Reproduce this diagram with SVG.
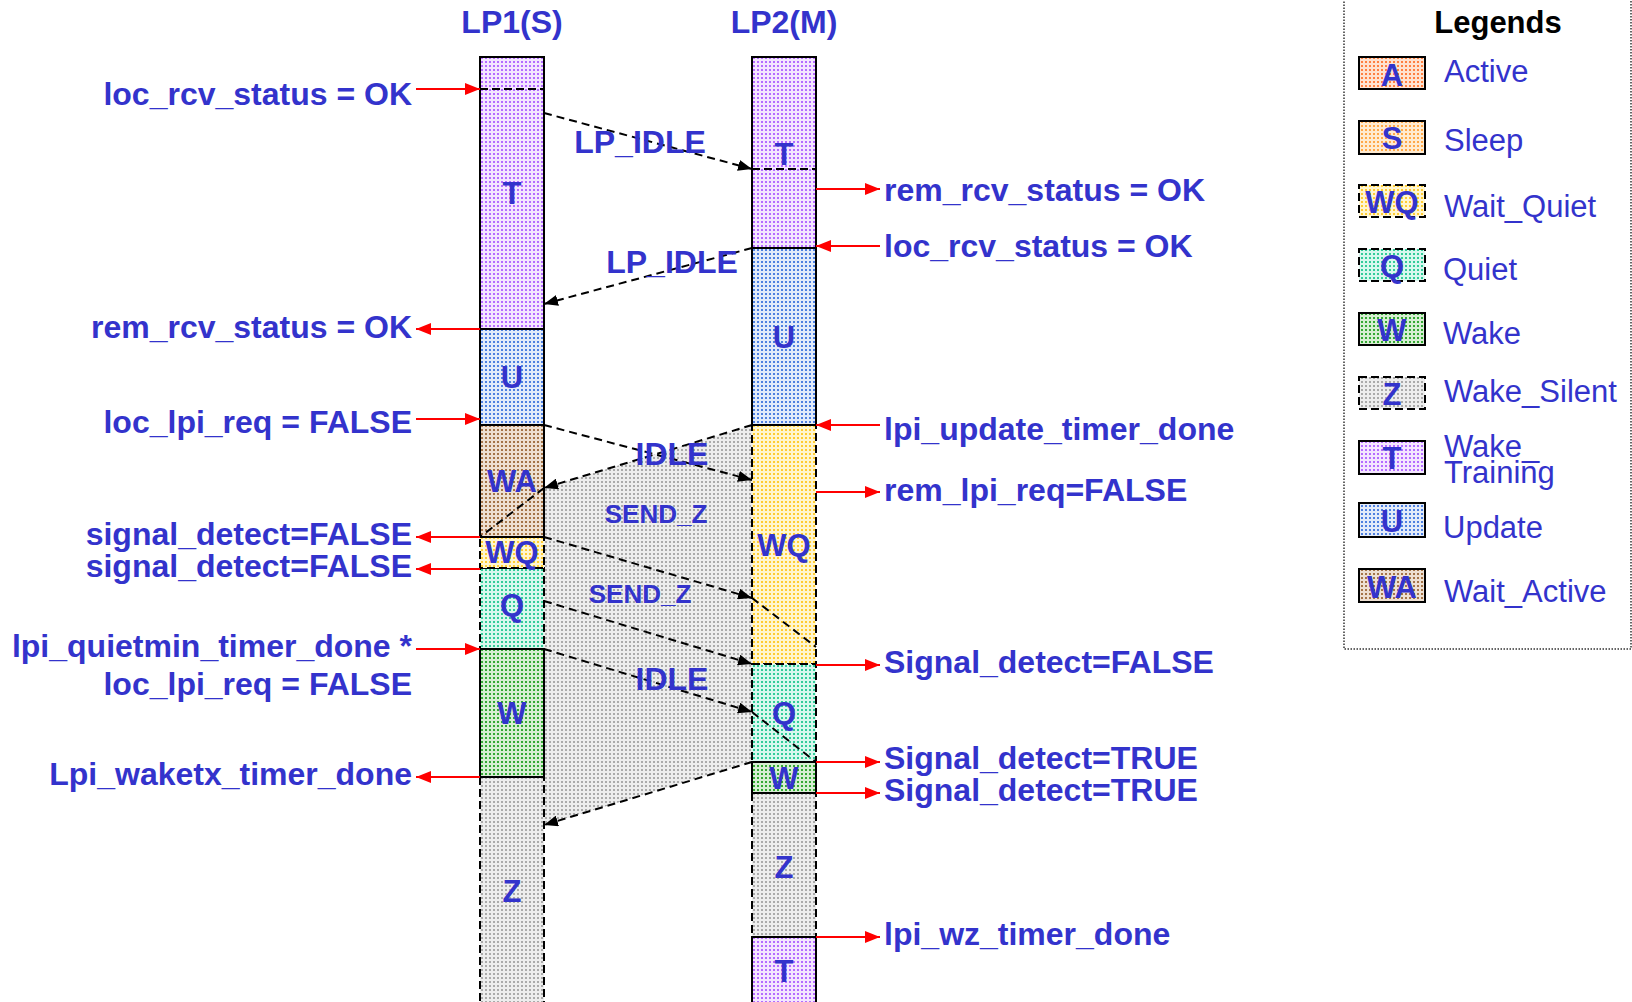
<svg xmlns="http://www.w3.org/2000/svg" width="1632" height="1002" viewBox="0 0 1632 1002">
<defs>
  <pattern id="pT" width="4" height="4" patternUnits="userSpaceOnUse"><rect width="4" height="4" fill="#F4E6FF"/><rect x="1" y="1" width="2" height="2" fill="#B46CFF"/></pattern>
  <pattern id="pU" width="4" height="4" patternUnits="userSpaceOnUse"><rect width="4" height="4" fill="#E2EBFA"/><rect x="1" y="1" width="2" height="2" fill="#4E80E0"/></pattern>
  <pattern id="pWA" width="4" height="4" patternUnits="userSpaceOnUse"><rect width="4" height="4" fill="#EEE0D2"/><rect x="1" y="1" width="2" height="2" fill="#A47448"/></pattern>
  <pattern id="pWQ" width="4" height="4" patternUnits="userSpaceOnUse"><rect width="4" height="4" fill="#FFF6D0"/><rect x="1" y="1" width="2" height="2" fill="#FFCC33"/></pattern>
  <pattern id="pQ" width="4" height="4" patternUnits="userSpaceOnUse"><rect width="4" height="4" fill="#D8F8EE"/><rect x="1" y="1" width="2" height="2" fill="#33CC99"/></pattern>
  <pattern id="pW" width="4" height="4" patternUnits="userSpaceOnUse"><rect width="4" height="4" fill="#D6EED2"/><rect x="1" y="1" width="2" height="2" fill="#33A833"/></pattern>
  <pattern id="pZ" width="4" height="4" patternUnits="userSpaceOnUse"><rect width="4" height="4" fill="#EDEDED"/><rect x="1" y="1" width="2" height="2" fill="#AAAAAA"/></pattern>
  <pattern id="pA" width="4" height="4" patternUnits="userSpaceOnUse"><rect width="4" height="4" fill="#FFE2D0"/><rect x="1" y="1" width="2" height="2" fill="#FF8040"/></pattern>
  <pattern id="pS" width="4" height="4" patternUnits="userSpaceOnUse"><rect width="4" height="4" fill="#FFEBD0"/><rect x="1" y="1" width="2" height="2" fill="#FFA848"/></pattern>
  <marker id="ar" markerUnits="userSpaceOnUse" markerWidth="16" markerHeight="12" refX="15" refY="6" orient="auto"><path d="M0,0 L15,6 L0,12 z" fill="#FF0000"/></marker>
  <marker id="ab" markerUnits="userSpaceOnUse" markerWidth="15" markerHeight="11" refX="14" refY="5.5" orient="auto"><path d="M0,0 L14,5.5 L0,11 z" fill="#000"/></marker>
</defs>
<style>
  text { font-family: "Liberation Sans", Arial, sans-serif; }
  .b { font-weight: bold; fill: #3333CC; }
  .hdr { font-size: 32px; text-anchor: middle; }
  .lbl { font-size: 32px; }
  .lft { text-anchor: end; }
  .st { font-size: 31px; text-anchor: middle; }
  .msg { font-size: 32px; text-anchor: middle; }
  .msgs { font-size: 26px; text-anchor: middle; }
  .solid { stroke: #000; stroke-width: 2; }
  .dash { stroke: #000; stroke-width: 2; stroke-dasharray: 8 4; }
  .red { stroke: #FF0000; stroke-width: 2; fill: none; marker-end: url(#ar); }
  .blk { stroke: #000; stroke-width: 2; stroke-dasharray: 8 5; fill: none; }
  .blka { marker-end: url(#ab); }
  .leg { font-size: 31px; fill: #3333CC; }
  .lgl { font-size: 31px; font-weight: bold; fill: #3333CC; text-anchor: middle; }
</style>

<g id="headers">
  <text class="b hdr" x="512" y="33">LP1(S)</text>
  <text class="b hdr" x="784" y="33">LP2(M)</text>
</g>

<g id="silent-region">
  <polygon points="752,425 544,488 544,825 752,762" fill="url(#pZ)"/>
</g>

<g id="lp1-column">
  <g id="lp1-Z"><rect x="480" y="777" width="64" height="228" fill="url(#pZ)" class="dash"/><text class="b st" x="512" y="902">Z</text></g>
  <g id="lp1-Q"><rect x="480" y="568" width="64" height="81" fill="url(#pQ)" class="dash"/><text class="b st" x="512" y="616">Q</text></g>
  <g id="lp1-WQ"><rect x="480" y="537" width="64" height="31" fill="url(#pWQ)" class="dash"/><text class="b st" x="512" y="563">WQ</text></g>
  <g id="lp1-T"><rect x="480" y="57" width="64" height="272" fill="url(#pT)" class="solid"/><line x1="480" y1="89" x2="544" y2="89" class="dash"/><text class="b st" x="512" y="204">T</text></g>
  <g id="lp1-U"><rect x="480" y="329" width="64" height="96" fill="url(#pU)" class="solid"/><text class="b st" x="512" y="388">U</text></g>
  <g id="lp1-WA"><rect x="480" y="425" width="64" height="112" fill="url(#pWA)" class="solid"/><text class="b st" x="512" y="492">WA</text></g>
  <g id="lp1-W"><rect x="480" y="649" width="64" height="128" fill="url(#pW)" class="solid"/><text class="b st" x="512" y="724">W</text></g>
</g>

<g id="lp2-column">
  <g id="lp2-WQ"><rect x="752" y="425" width="64" height="239" fill="url(#pWQ)" class="dash"/><text class="b st" x="784" y="556">WQ</text></g>
  <g id="lp2-Q"><rect x="752" y="664" width="64" height="98" fill="url(#pQ)" class="dash"/><text class="b st" x="784" y="724">Q</text></g>
  <g id="lp2-Z"><rect x="752" y="793" width="64" height="144" fill="url(#pZ)" class="dash"/><text class="b st" x="784" y="878">Z</text></g>
  <g id="lp2-T1"><rect x="752" y="57" width="64" height="191" fill="url(#pT)" class="solid"/><line x1="752" y1="169" x2="816" y2="169" class="dash"/><text class="b st" x="784" y="165">T</text></g>
  <g id="lp2-U"><rect x="752" y="248" width="64" height="177" fill="url(#pU)" class="solid"/><text class="b st" x="784" y="348">U</text></g>
  <g id="lp2-W"><rect x="752" y="762" width="64" height="31" fill="url(#pW)" class="solid"/><text class="b st" x="784" y="789">W</text></g>
  <g id="lp2-T2"><rect x="752" y="937" width="64" height="70" fill="url(#pT)" class="solid"/><text class="b st" x="784" y="982">T</text></g>
</g>

<g id="connectors">
  <line class="blk blka" x1="544" y1="113" x2="752" y2="169"/>
  <line class="blk blka" x1="752" y1="248" x2="544" y2="304"/>
  <line class="blk blka" x1="544" y1="425" x2="752" y2="480"/>
  <line class="blk blka" x1="752" y1="425" x2="544" y2="488"/>
  <line class="blk" x1="544" y1="488" x2="480" y2="537"/>
  <line class="blk blka" x1="544" y1="537" x2="752" y2="598"/>
  <line class="blk" x1="752" y1="598" x2="816" y2="647"/>
  <line class="blk blka" x1="544" y1="601" x2="752" y2="664"/>
  <line class="blk blka" x1="544" y1="649" x2="752" y2="712"/>
  <line class="blk" x1="752" y1="712" x2="816" y2="762"/>
  <line class="blk blka" x1="752" y1="762" x2="544" y2="825"/>

  <line class="red" x1="416" y1="89" x2="480" y2="89"/>
  <line class="red" x1="480" y1="329" x2="416" y2="329"/>
  <line class="red" x1="416" y1="419" x2="480" y2="419"/>
  <line class="red" x1="480" y1="537" x2="416" y2="537"/>
  <line class="red" x1="480" y1="569" x2="416" y2="569"/>
  <line class="red" x1="416" y1="649" x2="480" y2="649"/>
  <line class="red" x1="480" y1="777" x2="416" y2="777"/>

  <line class="red" x1="816" y1="189" x2="880" y2="189"/>
  <line class="red" x1="880" y1="246" x2="816" y2="246"/>
  <line class="red" x1="880" y1="425" x2="816" y2="425"/>
  <line class="red" x1="816" y1="492" x2="880" y2="492"/>
  <line class="red" x1="816" y1="665" x2="880" y2="665"/>
  <line class="red" x1="816" y1="762" x2="880" y2="762"/>
  <line class="red" x1="816" y1="793" x2="880" y2="793"/>
  <line class="red" x1="816" y1="937" x2="880" y2="937"/>
</g>

<g id="message-labels">
  <text class="b msg" x="640" y="153">LP_IDLE</text>
  <text class="b msg" x="672" y="273">LP_IDLE</text>
  <text class="b msg" x="672" y="465">IDLE</text>
  <text class="b msgs" x="656" y="523">SEND_Z</text>
  <text class="b msgs" x="640" y="603">SEND_Z</text>
  <text class="b msg" x="672" y="690">IDLE</text>
</g>

<g id="left-labels">
  <text class="b lbl lft" x="412" y="105">loc_rcv_status = OK</text>
  <text class="b lbl lft" x="412" y="338">rem_rcv_status = OK</text>
  <text class="b lbl lft" x="412" y="433">loc_lpi_req = FALSE</text>
  <text class="b lbl lft" x="412" y="545">signal_detect=FALSE</text>
  <text class="b lbl lft" x="412" y="577">signal_detect=FALSE</text>
  <text class="b lbl lft" x="412" y="657">lpi_quietmin_timer_done *</text>
  <text class="b lbl lft" x="412" y="695">loc_lpi_req = FALSE</text>
  <text class="b lbl lft" x="412" y="785">Lpi_waketx_timer_done</text>
</g>

<g id="right-labels">
  <text class="b lbl" x="884" y="201">rem_rcv_status = OK</text>
  <text class="b lbl" x="884" y="257">loc_rcv_status = OK</text>
  <text class="b lbl" x="884" y="440">lpi_update_timer_done</text>
  <text class="b lbl" x="884" y="501">rem_lpi_req=FALSE</text>
  <text class="b lbl" x="884" y="673">Signal_detect=FALSE</text>
  <text class="b lbl" x="884" y="769">Signal_detect=TRUE</text>
  <text class="b lbl" x="884" y="801">Signal_detect=TRUE</text>
  <text class="b lbl" x="884" y="945">lpi_wz_timer_done</text>
</g>

<g id="legend">
  <rect x="1344" y="-6" width="287" height="655" fill="none" stroke="#333" stroke-width="1.5" stroke-dasharray="1.5 1.5"/>
  <text x="1498" y="33" font-size="31" font-weight="bold" fill="#000" text-anchor="middle">Legends</text>
  <g id="leg-A"><rect x="1359" y="57" width="66" height="32" fill="url(#pA)" class="solid"/><text class="lgl" x="1392" y="86">A</text><text class="leg" x="1444" y="82">Active</text></g>
  <g id="leg-S"><rect x="1359" y="121" width="66" height="33" fill="url(#pS)" class="solid"/><text class="lgl" x="1392" y="149">S</text><text class="leg" x="1444" y="151">Sleep</text></g>
  <g id="leg-WQ"><rect x="1359" y="185" width="66" height="32" fill="url(#pWQ)" class="dash"/><text class="lgl" x="1392" y="213">WQ</text><text class="leg" x="1444" y="217">Wait_Quiet</text></g>
  <g id="leg-Q"><rect x="1359" y="249" width="66" height="32" fill="url(#pQ)" class="dash"/><text class="lgl" x="1392" y="277">Q</text><text class="leg" x="1443" y="280">Quiet</text></g>
  <g id="leg-W"><rect x="1359" y="313" width="66" height="32" fill="url(#pW)" class="solid"/><text class="lgl" x="1392" y="341">W</text><text class="leg" x="1443" y="344">Wake</text></g>
  <g id="leg-Z"><rect x="1359" y="377" width="66" height="32" fill="url(#pZ)" class="dash"/><text class="lgl" x="1392" y="405">Z</text><text class="leg" x="1444" y="402">Wake_Silent</text></g>
  <g id="leg-T"><rect x="1359" y="441" width="66" height="33" fill="url(#pT)" class="solid"/><text class="lgl" x="1392" y="469">T</text><text class="leg" x="1444" y="457">Wake_</text><text class="leg" x="1444" y="483">Training</text></g>
  <g id="leg-U"><rect x="1359" y="503" width="66" height="34" fill="url(#pU)" class="solid"/><text class="lgl" x="1392" y="532">U</text><text class="leg" x="1443" y="538">Update</text></g>
  <g id="leg-WA"><rect x="1359" y="569" width="66" height="33" fill="url(#pWA)" class="solid"/><text class="lgl" x="1392" y="598">WA</text><text class="leg" x="1444" y="602">Wait_Active</text></g>
</g>
</svg>
